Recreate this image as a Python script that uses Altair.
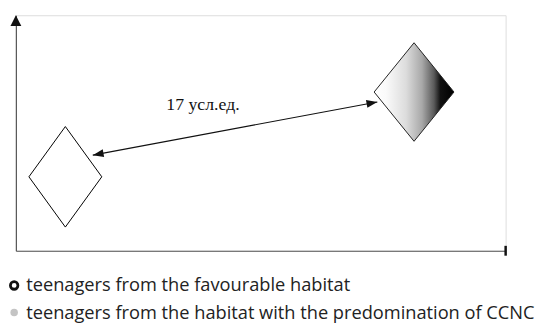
import math
import altair as alt
import pandas as pd

# ---- data (arbitrary conceptual units) ----
groups = ["teenagers from the favourable habitat",
          "teenagers from the habitat with the predomination of CCNC"]
diamond_x = [10.1, 81.3]
diamond_y = [31.4, 67.4]
arrow_start = [15.7, 40.6]
arrow_end = [73.8, 63.2]
distance_label = "17 усл.ед."
label_pos = [38.2, 59.8]
axis_max = [100, 100]

W, H = 497, 239

xs = alt.Scale(domain=[0, axis_max[0]], nice=False, zero=False)
ys = alt.Scale(domain=[0, axis_max[1]], nice=False, zero=False)
ax = alt.Axis(domain=True, domainColor="#555555", domainWidth=1.2, ticks=False,
              labels=False, grid=False, title=None)


def X(f="x"):
    return alt.X(f"{f}:Q", scale=xs, axis=ax)


def Y(f="y"):
    return alt.Y(f"{f}:Q", scale=ys, axis=ax)


df_d = pd.DataFrame({"x": diamond_x, "y": diamond_y, "group": groups})

base_d = alt.Chart(df_d)

left_diamond = base_d.transform_filter(alt.datum.group == groups[0]).mark_point(
    shape="M0,-1L0.725,0L0,1L-0.725,0Z", size=10404, filled=True,
    fill="white", stroke="black", strokeWidth=1, opacity=1
).encode(x=X(), y=Y())

grad = alt.Gradient(
    gradient="linear", x1=0, x2=1, y1=0, y2=0,
    stops=[alt.GradientStop(offset=0.0, color="#ffffff"),
           alt.GradientStop(offset=0.15, color="#fafafa"),
           alt.GradientStop(offset=0.40, color="#dcdcdc"),
           alt.GradientStop(offset=0.60, color="#a8a8a8"),
           alt.GradientStop(offset=0.75, color="#5a5a5a"),
           alt.GradientStop(offset=0.83, color="#111111"),
           alt.GradientStop(offset=1.0, color="#000000")])

right_diamond = base_d.transform_filter(alt.datum.group == groups[1]).mark_point(
    shape="M0,-1L0.81,0L0,1L-0.81,0Z", size=10000, filled=True,
    fill=grad, stroke="#222222", strokeWidth=1, opacity=1
).encode(x=X(), y=Y())

leg = alt.Legend(title=None, orient="none", legendX=-11, legendY=265,
                 symbolType="circle", symbolSize=58, symbolStrokeWidth=2.8,
                 labelFont="Open Sans", labelFontSize=18.5, labelColor="#222222",
                 labelLimit=1000, labelOffset=3, rowPadding=7.5,
                 padding=0, symbolOpacity=1)

# invisible layer just to produce the legend
legend_layer = base_d.mark_point(filled=True, opacity=0, size=1).encode(
    x=X(), y=Y(),
    fill=alt.Fill("group:N", scale=alt.Scale(domain=groups, range=["white", "#c4c4c4"]),
                  legend=leg),
    stroke=alt.Stroke("group:N", scale=alt.Scale(domain=groups, range=["#111111", "transparent"]),
                      legend=leg),
)

# double arrow
df_a = pd.DataFrame({"x": [arrow_start[0]], "y": [arrow_start[1]],
                     "x2": [arrow_end[0]], "y2": [arrow_end[1]]})
arrow_line = alt.Chart(df_a).mark_rule(color="#111111", strokeWidth=1.1).encode(
    x=X(), y=Y(), x2="x2:Q", y2="y2:Q")

dx = (arrow_end[0] - arrow_start[0]) * W / axis_max[0]
dy = -(arrow_end[1] - arrow_start[1]) * H / axis_max[1]
ang_end = math.degrees(math.atan2(dx, -dy)) % 360
ang_start = (ang_end + 180) % 360

head_shape = "M0,0L-0.36,1L0.36,1Z"
df_h = pd.DataFrame({"x": [arrow_end[0], arrow_start[0]],
                     "y": [arrow_end[1], arrow_start[1]],
                     "angle": [ang_end, ang_start]})
heads = alt.Chart(df_h).mark_point(shape=head_shape, size=484, filled=True,
                                   color="#111111", opacity=1).encode(
    x=X(), y=Y(), angle=alt.Angle("angle:Q", scale=None))

# axis arrow on y and end bar on x
df_ya = pd.DataFrame({"x": [0], "y": [axis_max[1]]})
y_arrow = alt.Chart(df_ya).mark_point(shape="M0,0L-0.5,1L0.5,1Z", size=484, filled=True,
                                      color="#111111", opacity=1).encode(x=X(), y=Y())
df_xa = pd.DataFrame({"x": [axis_max[0]], "y": [0]})
x_end = alt.Chart(df_xa).mark_tick(orient="vertical", size=10, thickness=2.5,
                                   color="#111111", opacity=1).encode(x=X(), y=Y())

df_t = pd.DataFrame({"x": [label_pos[0]], "y": [label_pos[1]], "t": [distance_label]})
label = alt.Chart(df_t).mark_text(font="Liberation Serif", fontSize=18, color="#111111",
                                  align="center", baseline="alphabetic").encode(
    x=X(), y=Y(), text="t:N")

chart = alt.layer(left_diamond, right_diamond, arrow_line, heads, y_arrow, x_end, label,
                  legend_layer).properties(
    width=W, height=H,
    autosize=alt.AutoSizeParams(type="none"),
    padding={"left": 8, "top": 5, "right": 44, "bottom": 74},
).configure_view(stroke=None).configure(background="white")

chart.save("out.html", embed_options={"renderer": "svg", "actions": False})
